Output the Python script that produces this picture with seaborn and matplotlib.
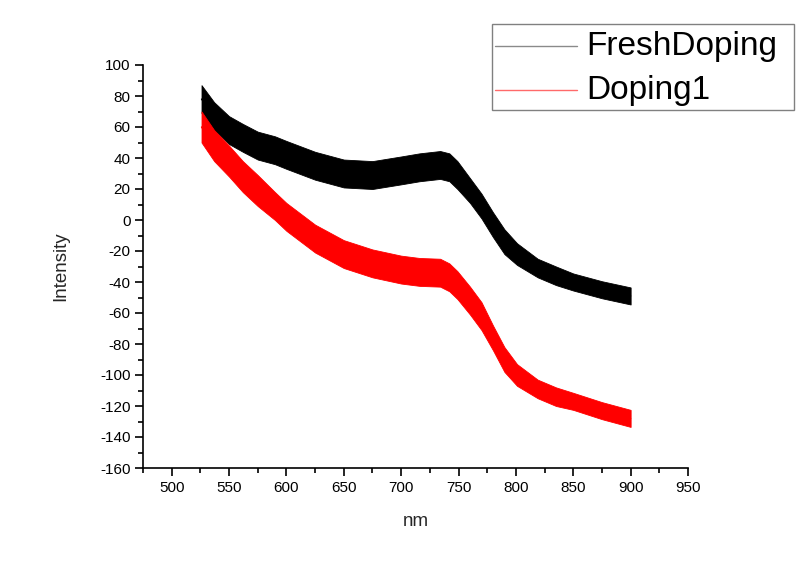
import numpy as np
import pandas as pd
import seaborn as sns
import matplotlib
matplotlib.use("Agg")
import matplotlib.pyplot as plt
from matplotlib.lines import Line2D
from matplotlib.patches import Rectangle

# ---- data (centre of the noisy band and its half width) ----
wavelength = [526, 537, 550, 562, 575, 590, 600, 625, 650, 675, 700, 716,
              734, 742, 749, 760, 770, 780, 790, 801, 819, 835, 850, 875, 900]
fresh_center = [78, 67, 58, 53, 48, 45, 42, 35, 30, 29, 32, 34,
                35.5, 34, 29, 19, 9, -3, -14, -22, -31, -36, -40, -45, -49]
fresh_half = [9, 9, 9, 9, 9, 9, 9, 9, 9, 9, 9, 9,
              9, 9, 9, 8, 8, 8, 8, 7, 6, 6, 5.5, 5.5, 5.5]
doping1_center = [60, 48, 38, 28, 19, 9, 2, -12, -22, -28, -32, -33.5,
                  -34, -37, -42, -52, -62, -76, -90, -100, -109, -114, -117, -123, -128]
doping1_half = [10, 10, 10, 10, 10, 9, 9, 9, 9, 9, 9, 9,
                9, 9, 9, 9, 9, 8, 8, 7, 6, 6, 5.5, 5.5, 5.5]
series_names = ["FreshDoping", "Doping1"]
series_colors = ["#000000", "#ff0000"]
legend_colors = ["#8a8a8a", "#ff6a6a"]

rows = []
for name, cen, half in [(series_names[0], fresh_center, fresh_half),
                        (series_names[1], doping1_center, doping1_half)]:
    for x, c, h in zip(wavelength, cen, half):
        rows.append((name, x, c - h))
        rows.append((name, x, c + h))
df = pd.DataFrame(rows, columns=["series", "nm", "Intensity"])

sns.set_theme(style="ticks")
plt.rcParams["font.family"] = ["Liberation Sans", "DejaVu Sans"]
plt.rcParams["axes.unicode_minus"] = False

fig = plt.figure(figsize=(8.0, 5.61), dpi=100)
ax = fig.add_axes([143 / 800, 1 - 468 / 561, (688 - 143) / 800, (468 - 65) / 561])

sns.lineplot(data=df, x="nm", y="Intensity", hue="series",
             palette=dict(zip(series_names, series_colors)),
             estimator="mean", errorbar=("pi", 100),
             err_kws={"alpha": 1.0, "linewidth": 0.6}, linewidth=1.0,
             legend=False, ax=ax)
for coll, col in zip(ax.collections, series_colors):
    coll.set_edgecolor(col)

ax.set_xlim(475, 950)
ax.set_ylim(-160, 100)
ax.set_xticks(np.arange(500, 951, 50))
ax.set_xticks(np.arange(475, 951, 25), minor=True)
ax.set_yticks(np.arange(-160, 101, 20))
ax.set_yticks(np.arange(-160, 101, 10), minor=True)
for side in ["top", "right"]:
    ax.spines[side].set_visible(False)
for side in ["left", "bottom"]:
    ax.spines[side].set_linewidth(1.2)
    ax.spines[side].set_color("black")
ax.tick_params(which="major", direction="out", length=6, width=1.2,
               labelsize=11, colors="black", pad=3)
ax.tick_params(which="minor", direction="out", length=3.5, width=1.2, colors="black")
ax.set_xlabel("nm", fontsize=13.5, labelpad=13)
ax.set_ylabel("Intensity", fontsize=13.5)
ax.yaxis.set_label_coords(-0.135, 0.5)

# ---- legend box (partly off the right edge like the reference) ----
def px(x, y):
    return (x / 800, 1 - y / 561)

x0, y0 = px(492, 110)
x1, y1 = px(794, 24)
fig.add_artist(Rectangle((x0, y0), x1 - x0, y1 - y0, transform=fig.transFigure,
                         facecolor="white", edgecolor="#808080", linewidth=1.0))
for i, (name, lc) in enumerate(zip(series_names, legend_colors)):
    ly = 46 + 44 * i
    a = px(495, ly)
    b = px(577, ly)
    fig.add_artist(Line2D([a[0], b[0]], [a[1], b[1]], transform=fig.transFigure,
                          color=lc, linewidth=1.0))
    t = px(586, ly + 1)
    fig.text(t[0], t[1], name, fontsize=24, va="center", ha="left", color="black")

fig.savefig("out.png", dpi=100)
